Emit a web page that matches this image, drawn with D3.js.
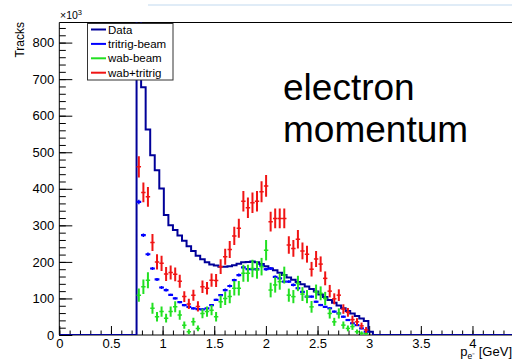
<!DOCTYPE html>
<html>
<head>
<meta charset="utf-8">
<script src="https://cdn.jsdelivr.net/npm/d3@7"></script>
<style>
  html, body { margin: 0; padding: 0; background: #fff; }
  svg { display: block; font-family: "Liberation Sans", Arial, Helvetica, sans-serif; }
</style>
</head>
<body>
<div id="container"></div>
<script>
// histogram binning: 100 bins over 0..4.4 GeV, filled bins start at index 17
const binWidth = 0.044;
const firstBin = 17;
const xMax = 4.4;
const yMax = 855; // x10^3

// Data histogram (x10^3 tracks), bins 17..68
const dataCounts = [920, 678, 562, 492, 451, 401, 328, 300, 287, 272, 258, 243, 230, 217, 207, 199,
    193, 190, 187, 187, 188, 191, 195, 199, 200, 201, 199, 194, 188, 182, 177, 170, 164, 157, 151,
    145, 139, 133, 126, 119, 111, 104, 96, 88, 81, 73, 66, 59, 52, 45, 38, 9];

// tritrig-beam
const tritrigVals = [364, 273, 221, 182, 152, 130, 123, 110, 100, 90, 82, 77, 73, 71, 70, 73, 82, 96,
    109, 123, 134, 150, 164, 185, 180, 180, 180, 190, 180, 182, 159, 155, 146, 146, 137, 128, 118,
    105, 105, 91, 82, 77, 73, 64, 59, 50, 41, 32, 27, 18, 9];
const tritrigErr = [6, 5, 5, 4, 4, 4, 4, 3, 3, 3, 3, 3, 3, 3, 3, 3, 3, 3, 3, 4, 4, 4, 4, 4, 4, 4, 4,
    4, 4, 4, 4, 4, 4, 4, 4, 4, 3, 3, 3, 3, 3, 3, 3, 3, 3, 3, 2, 2, 2, 2, 2];

// wab-beam
const wabVals = [109, 132, 150, 73, 50, 64, 46, 64, 77, 55, 27, 9, 36, 18, 59, 64, 68, 50, 91, 100,
    105, 128, 128, 169, 169, 182, 178, 187, 232, 123, 137, 146, 164, 109, 105, 141, 112, 105, 77,
    118, 114, 100, 59, 36, 59, 27, 18, 23, 9, 5, 4];
const wabErr = [18, 20, 22, 15, 13, 14, 12, 14, 15, 13, 10, 7, 11, 8, 13, 14, 14, 13, 17, 18, 18, 20,
    20, 23, 23, 24, 24, 24, 28, 20, 21, 22, 23, 18, 18, 21, 19, 18, 16, 20, 19, 18, 14, 11, 14, 10,
    8, 9, 6, 5, 4];

// wab+tritrig
const sumVals = [460, 390, 378, 253, 200, 196, 167, 171, 166, 147, 105, 85, 109, 78, 132, 128, 150,
    149, 187, 214, 234, 271, 292, 366, 348, 362, 366, 392, 408, 310, 319, 319, 319, 246, 237, 262,
    230, 221, 180, 208, 194, 155, 120, 99, 109, 71, 62, 42, 36, 25, 14];
const sumErr = [29, 27, 27, 23, 21, 21, 19, 19, 19, 18, 15, 14, 15, 14, 17, 17, 18, 18, 20, 22, 23,
    25, 26, 28, 28, 28, 28, 29, 30, 27, 27, 27, 27, 24, 23, 25, 23, 23, 20, 22, 21, 19, 17, 15, 16,
    13, 12, 11, 10, 9, 8];

const xMajor = [0, 0.5, 1, 1.5, 2, 2.5, 3, 3.5, 4];
const yMajor = [0, 100, 200, 300, 400, 500, 600, 700, 800];

const legendItems = [
    { label: "Data", color: "#000099" },
    { label: "tritrig-beam", color: "#0000ff" },
    { label: "wab-beam", color: "#22e022" },
    { label: "wab+tritrig", color: "#f01414" }
];

const width = 512, height = 363;
const plotLeft = 59.3, plotRight = 513.8, plotTop = 22.5, plotBottom = 335;

const svg = d3.select("#container").append("svg")
    .attr("width", width)
    .attr("height", height);

const x = d3.scaleLinear().domain([0, xMax]).range([plotLeft, plotRight]);
const y = d3.scaleLinear().domain([0, yMax]).range([plotBottom, plotTop]);

svg.append("clipPath").attr("id", "plot-clip")
    .append("rect")
    .attr("x", plotLeft).attr("y", plotTop)
    .attr("width", plotRight - plotLeft).attr("height", plotBottom - plotTop);

// faint slide decoration at the very top
svg.append("line")
    .attr("x1", 148).attr("x2", width).attr("y1", 5).attr("y2", 5)
    .attr("stroke", "#d6e6f4").attr("stroke-width", 1.5);

// frame
svg.append("path")
    .attr("d", `M${plotRight},${plotTop}H${plotLeft}V${plotBottom}H${plotRight}`)
    .attr("fill", "none").attr("stroke", "#000").attr("stroke-width", 1);

// axes: major ticks point inward
const xAxis = svg.append("g")
    .attr("transform", `translate(0,${plotBottom})`)
    .call(d3.axisBottom(x).tickValues(xMajor).tickSize(-9).tickPadding(4).tickFormat(d => d));
xAxis.append("g").call(d3.axisBottom(x).tickValues(d3.range(0, 44).map(i => i / 10)).tickSize(-4.5).tickFormat(""));

const yAxis = svg.append("g")
    .attr("transform", `translate(${plotLeft},0)`)
    .call(d3.axisLeft(y).tickValues(yMajor).tickSize(-13).tickPadding(5).tickFormat(d => d));
yAxis.append("g").call(d3.axisLeft(y).tickValues(d3.range(0, yMax, 20)).tickSize(-6.5).tickFormat(""));

svg.selectAll(".domain").remove();
svg.selectAll(".tick line").attr("stroke", "#000").attr("stroke-width", 1);
svg.selectAll(".tick text").attr("fill", "#000").style("font-size", "13px");

// axis titles
svg.append("text")
    .attr("transform", "translate(23.5,22) rotate(-90)")
    .attr("text-anchor", "end")
    .style("font-size", "12px")
    .text("Tracks");

const mult = svg.append("text").attr("x", 60).attr("y", 19).style("font-size", "10.5px");
mult.append("tspan").text("\u00d710");
mult.append("tspan").attr("dy", -4).style("font-size", "7.5px").text("3");

const xt = svg.append("text")
    .attr("x", 512).attr("y", 356)
    .attr("text-anchor", "end")
    .style("font-size", "13px");
xt.append("tspan").text("p");
xt.append("tspan").attr("dy", 3).style("font-size", "8.5px").text("e\u207b");
xt.append("tspan").attr("dy", -3).text(" [GeV]");

const plot = svg.append("g").attr("clip-path", "url(#plot-clip)");

// Data histogram outline over the full axis range
const nBins = Math.round(xMax / binWidth);
const full = d3.range(nBins).map(i => {
    const j = i - firstBin;
    return { x0: i * binWidth, v: (j >= 0 && j < dataCounts.length) ? dataCounts[j] : 0 };
});
full.push({ x0: xMax, v: 0 });

plot.append("path")
    .datum(full)
    .attr("fill", "none")
    .attr("stroke", legendItems[0].color)
    .attr("stroke-width", 2)
    .attr("d", d3.line().x(d => x(d.x0)).y(d => y(d.v)).curve(d3.curveStepAfter));

function drawPoints(vals, errs, color, opts) {
    const pts = vals.map((v, i) => ({
        cx: x((firstBin + i + 0.5) * binWidth),
        v: v,
        e: errs[i]
    }));
    const g = plot.append("g").attr("stroke", color);
    g.selectAll("line.v").data(pts).join("line")
        .attr("class", "v")
        .attr("x1", d => d.cx).attr("x2", d => d.cx)
        .attr("y1", d => y(Math.max(0, d.v - d.e))).attr("y2", d => y(d.v + d.e))
        .attr("stroke-width", opts.vw);
    g.selectAll("line.h").data(pts).join("line")
        .attr("class", "h")
        .attr("x1", d => d.cx - opts.hw).attr("x2", d => d.cx + opts.hw)
        .attr("y1", d => y(d.v)).attr("y2", d => y(d.v))
        .attr("stroke-width", opts.hs);
}

drawPoints(tritrigVals, tritrigErr, legendItems[1].color, { vw: 1.5, hw: 2.4, hs: 2.2 });
drawPoints(wabVals, wabErr, legendItems[2].color, { vw: 2, hw: 2.2, hs: 1.5 });
drawPoints(sumVals, sumErr, legendItems[3].color, { vw: 2, hw: 2.2, hs: 1.5 });

// legend
const legend = svg.append("g");
legend.append("rect")
    .attr("x", 87.5).attr("y", 23.5).attr("width", 85.5).attr("height", 56.5)
    .attr("fill", "#fff").attr("stroke", "#333").attr("stroke-width", 1);
const rows = legend.selectAll("g.row").data(legendItems).join("g")
    .attr("class", "row")
    .attr("transform", (d, i) => `translate(0,${29.5 + i * 14.4})`);
rows.append("line")
    .attr("x1", 91).attr("x2", 106)
    .attr("stroke", d => d.color).attr("stroke-width", 2);
rows.append("text")
    .attr("x", 108).attr("dy", "0.36em")
    .style("font-size", "11.5px")
    .text(d => d.label);

// slide annotation
svg.append("text").attr("x", 283).attr("y", 100).style("font-size", "37px").text("electron");
svg.append("text").attr("x", 283).attr("y", 142).style("font-size", "37px").text("momentum");
</script>
</body>
</html>
